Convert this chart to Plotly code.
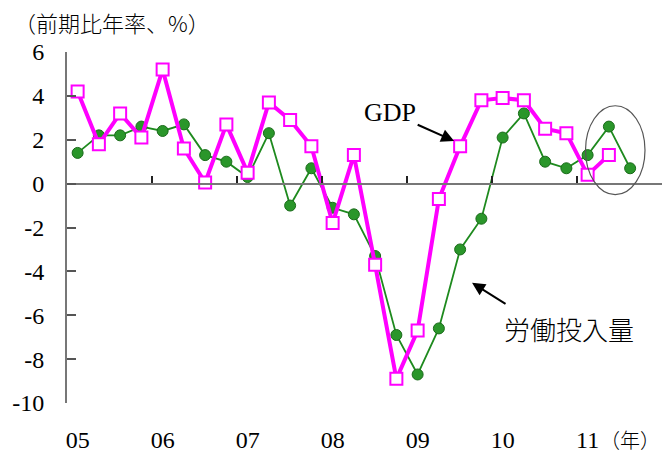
import plotly.graph_objects as go

# Quarterly index: 0 = 2005 Q1 ... 26 = 2011 Q3
quarters = list(range(27))

# Real GDP, annualised q/q growth (%)
gdp = [4.2, 1.8, 3.2, 2.1, 5.2, 1.6, 0.05, 2.7, 0.5, 3.7, 2.9, 1.7,
       -1.8, 1.3, -3.7, -8.9, -6.7, -0.7, 1.7, 3.8, 3.9, 3.8, 2.5, 2.3,
       0.4, 1.3]

# Labour input, annualised q/q growth (%)
labour = [1.4, 2.2, 2.2, 2.6, 2.4, 2.7, 1.3, 1.0, 0.3, 2.3, -1.0, 0.7,
          -1.1, -1.4, -3.3, -6.9, -8.7, -6.6, -3.0, -1.6, 2.1, 3.2, 1.0, 0.7,
          1.3, 2.6, 0.7]

year_labels = ["05", "06", "07", "08", "09", "10", "11"]
year_label_pos = [4 * i for i in range(len(year_labels))]
year_bounds = [4 * i - 0.5 for i in range(len(year_labels) + 1)]
y_ticks = [6, 4, 2, 0, -2, -4, -6, -8, -10]
y_tick_text = [str(v) for v in y_ticks]

SERIF = "Liberation Serif"
CJK = "Noto Sans CJK JP"

fig = go.Figure()

# labour input (thin green line with filled circles)
fig.add_trace(go.Scatter(
    x=quarters[:len(labour)], y=labour, mode="lines+markers",
    line=dict(color="#1e8a1e", width=1.8),
    marker=dict(symbol="circle", size=11, color="#2a962a",
                line=dict(color="#1a6b1a", width=1)),
    showlegend=False, hoverinfo="skip"))

# GDP (thick magenta line with open squares)
fig.add_trace(go.Scatter(
    x=quarters[:len(gdp)], y=gdp, mode="lines+markers",
    line=dict(color="#ff00ff", width=4),
    marker=dict(symbol="square", size=12, color="white",
                line=dict(color="#ff00ff", width=2)),
    showlegend=False, hoverinfo="skip"))

# helper trace so the zero-line axis gets drawn
fig.add_trace(go.Scatter(x=[None], y=[None], xaxis="x2", showlegend=False,
                         hoverinfo="skip"))

fig.update_layout(
    width=672, height=455,
    font=dict(family=SERIF, size=24, color="black"),
    margin=dict(l=67, r=10, t=52, b=52, autoexpand=False),
    paper_bgcolor="white", plot_bgcolor="white",
    xaxis=dict(
        range=[-0.5, 27.5], showline=False, showgrid=False, zeroline=False,
        automargin=False,
        tickmode="array", tickvals=year_label_pos, ticktext=year_labels,
        ticks="", ticklabelstandoff=20,
        tickfont=dict(family=SERIF, size=24, color="black")),
    xaxis2=dict(
        range=[-0.5, 27.5], overlaying="x", anchor="free", position=10 / 16,
        side="bottom", showline=True, linecolor="#777777", linewidth=2,
        automargin=False,
        showgrid=False, zeroline=False, tickmode="array", tickvals=year_bounds,
        ticks="inside", ticklen=7, tickwidth=1.5, tickcolor="#222222",
        showticklabels=False),
    yaxis=dict(
        range=[-10, 6], showline=True, linecolor="#777777", linewidth=2,
        automargin=False,
        showgrid=False, zeroline=False, tickmode="array", tickvals=y_ticks,
        ticktext=y_tick_text,
        ticks="inside", ticklen=9, tickwidth=1.5, tickcolor="#555555",
        ticklabelstandoff=16,
        tickfont=dict(family=SERIF, size=24, color="black")),
)

# circle around the latest quarters
fig.add_shape(type="circle", xref="x", yref="y",
              x0=23.9, x1=26.7, y0=-0.5, y1=3.55,
              line=dict(color="#555555", width=1.2))

# unit label and year label
fig.add_annotation(text="（前期比年率、%）", xref="paper", yref="paper",
                   x=-55 / 595, y=1 + 30 / 351, xanchor="left", yanchor="middle",
                   showarrow=False,
                   font=dict(family=CJK, size=22, color="black", weight=300))
fig.add_annotation(text="（年）", xref="paper", yref="paper",
                   x=1.0, y=-36 / 351, xanchor="right", yanchor="middle",
                   showarrow=False,
                   font=dict(family=CJK, size=20, color="black", weight=300))

# series labels with arrows
fig.add_annotation(text="GDP", x=14.7, y=3.26, xref="x", yref="y",
                   showarrow=False, font=dict(family=SERIF, size=26, color="black"))
fig.add_annotation(text="", x=17.72, y=1.94, xref="x", yref="y",
                   ax=-38, ay=-17, showarrow=True, arrowhead=2, arrowsize=1.3,
                   arrowwidth=2, arrowcolor="black")
fig.add_annotation(text="労働投入量", x=23.12, y=-6.62, xref="x", yref="y",
                   showarrow=False,
                   font=dict(family=CJK, size=26, color="black", weight=300))
fig.add_annotation(text="", x=18.56, y=-4.52, xref="x", yref="y",
                   ax=35, ay=22, showarrow=True, arrowhead=2, arrowsize=1.3,
                   arrowwidth=2, arrowcolor="black")

fig.write_html("out.html")
